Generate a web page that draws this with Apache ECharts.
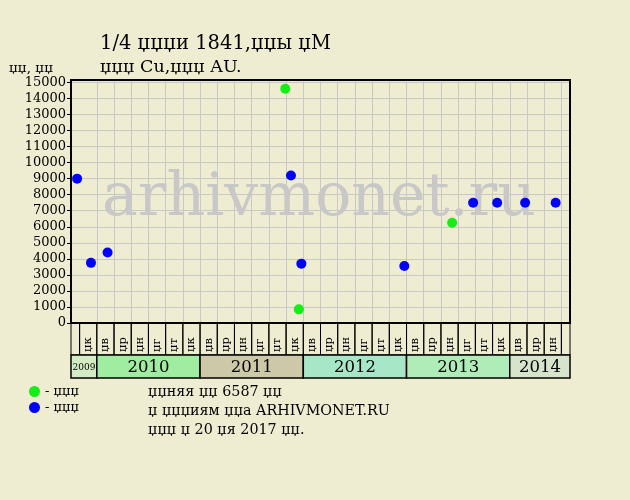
<!DOCTYPE html>
<html><head><meta charset="utf-8">
<script src="https://cdn.jsdelivr.net/npm/echarts@6/dist/echarts.min.js"></script>
<style>html,body{margin:0;padding:0;background:#efedd1;}#c{width:630px;height:500px;}</style>
</head><body><div id="c"></div>
<script>
// ---- data ----
const titleText = '1/4 џџџи 1841,џџы џМ';
const subtitleText = 'џџџ Cu,џџџ AU.';
const yUnitText = 'џџ, џџ';
const axisStart = '2009-10-01';
const axisEnd = '2014-08-01';
const firstColumnStart = '2009-11-01';
const monthColumnLabels = [
  'џк',
  'џв','џр','џн','џг','џт','џк',
  'џв','џр','џн','џг','џт','џк',
  'џв','џр','џн','џг','џт','џк',
  'џв','џр','џн','џг','џт','џк',
  'џв','џр','џн'
];
const years = [2009, 2010, 2011, 2012, 2013, 2014];
const greenDates = ['2011-10-29', '2011-12-16', '2013-06-10'];
const greenValues = [14600, 850, 6250];
const blueDates = ['2009-10-23', '2009-12-11', '2010-02-08', '2011-11-18', '2011-12-25',
                   '2012-12-24', '2013-08-24', '2013-11-17', '2014-02-23', '2014-06-11'];
const blueValues = [9000, 3750, 4400, 9200, 3700, 3550, 7500, 7500, 7500, 7500];
const legendLabels = ['- џџџ', '- џџџ'];
const noteLines = ['џџняя џџ 6587 џџ', 'џ џџџиям џџа ARHIVMONET.RU', 'џџџ џ 20 џя 2017 џџ.'];
const watermarkText = 'arhivmonet.ru';
const yMin = 0, yMax = 15150, yStep = 1000;

// ---- styles ----
const yearColors = ['#d3ecc4', '#a0eca0', '#cdc8a8', '#a8e6c8', '#b0ecb8', '#d6e4cc'];
const FONT = 'DejaVu Serif';
const BG = '#efedd1';

// ---- helpers ----
const [sY, sM] = axisStart.split('-').map(Number);
function monthIndex(s) {
  const [Y, M, D] = s.split('-').map(Number);
  const dim = new Date(Y, M, 0).getDate();
  return (Y - sY) * 12 + (M - sM) + (D - 1) / dim;
}
const xMax = monthIndex(axisEnd);
const monthIds = [];
for (let i = 0; i < xMax; i++) monthIds.push('m' + i);

const colStart = monthIndex(firstColumnStart);
const monthCells = [[0, colStart, '']];
monthColumnLabels.forEach((l, k) => monthCells.push([colStart + 2 * k, colStart + 2 * k + 2, l]));
monthCells.push([colStart + 2 * monthColumnLabels.length, xMax, '']);

const yearCells = years.map(y => [
  Math.max(0, monthIndex(y + '-01-01')),
  Math.min(xMax, monthIndex((y + 1) + '-01-01'))
]);

const chart = echarts.init(document.getElementById('c'), null, {renderer: 'canvas'});
const monthRowFrac = 32 / 55;

chart.setOption({
  backgroundColor: BG,
  animation: false,
  textStyle: {fontFamily: FONT},
  title: [
    {text: titleText, left: 100, top: 33, padding: 0,
     textStyle: {fontFamily: FONT, fontSize: 19.5, fontWeight: 'normal', color: '#000', lineHeight: 22}},
    {text: subtitleText, left: 100, top: 57, padding: 0,
     textStyle: {fontFamily: FONT, fontSize: 17.5, fontWeight: 'normal', color: '#000', lineHeight: 20}},
    {text: yUnitText, left: 9, top: 61, padding: 0,
     textStyle: {fontFamily: FONT, fontSize: 13.5, fontWeight: 'normal', color: '#000', lineHeight: 15}},
    {text: noteLines.join('\n'), left: 148, top: 383, padding: 0,
     textStyle: {fontFamily: FONT, fontSize: 14.3, fontWeight: 'normal', color: '#000', lineHeight: 19}}
  ],
  legend: {
    orient: 'vertical', left: 29, top: 385, itemWidth: 11, itemHeight: 11, itemGap: 3,
    icon: 'circle', padding: 0,
    data: ['green', 'blue'],
    formatter: name => legendLabels[name === 'green' ? 0 : 1],
    textStyle: {fontFamily: FONT, fontSize: 13, color: '#000'}
  },
  graphic: [{
    type: 'text', x: 319, y: 199, z: 0, silent: true,
    style: {text: watermarkText, fontFamily: FONT, fontSize: 60, fill: '#c8c8c8',
            align: 'center', verticalAlign: 'middle'}
  }],
  grid: [
    {left: 71, top: 80, width: 499, height: 243, show: true, borderColor: '#000', borderWidth: 2,
     backgroundColor: 'transparent', z: 3},
    {left: 71, top: 323, width: 499, height: 55, show: false}
  ],
  xAxis: [
    {type: 'category', gridIndex: 0, data: monthIds, boundaryGap: true,
     axisLine: {show: false}, axisTick: {show: false}, axisLabel: {show: false},
     splitLine: {show: true, interval: (i) => i % 2 === 1, showMinLine: false, showMaxLine: false,
                 lineStyle: {color: '#c8c8c8', width: 1}}},
    {type: 'value', gridIndex: 0, min: 0, max: xMax, show: false},
    {type: 'value', gridIndex: 1, min: 0, max: xMax, show: false}
  ],
  yAxis: [
    {type: 'value', gridIndex: 0, min: yMin, max: yMax, interval: yStep,
     axisLine: {show: true, lineStyle: {color: '#000', width: 2}},
     axisTick: {show: true, length: 4, lineStyle: {color: '#000', width: 1}},
     axisLabel: {showMaxLabel: false, fontFamily: FONT, fontSize: 13, color: '#000', margin: 5,
                 formatter: v => String(v)},
     splitLine: {show: true, showMinLine: false, showMaxLine: false, lineStyle: {color: '#c8c8c8', width: 1}}},
    {type: 'value', gridIndex: 1, min: 0, max: 1, show: false}
  ],
  series: [
    {name: 'green', type: 'scatter', xAxisIndex: 1, yAxisIndex: 0, symbolSize: 10, z: 5,
     itemStyle: {color: '#14ee14', opacity: 1},
     data: greenDates.map((d, i) => [monthIndex(d), greenValues[i]])},
    {name: 'blue', type: 'scatter', xAxisIndex: 1, yAxisIndex: 0, symbolSize: 10, z: 5,
     itemStyle: {color: '#0000ff', opacity: 1},
     data: blueDates.map((d, i) => [monthIndex(d), blueValues[i]])},
    {type: 'custom', xAxisIndex: 2, yAxisIndex: 1, clip: false, silent: true,
     data: monthCells.map(c => [c[0], c[1]]),
     encode: {x: [0, 1]},
     renderItem: (params, api) => {
       const cs = params.coordSys;
       const x0 = api.coord([api.value(0), 0])[0];
       const x1 = api.coord([api.value(1), 0])[0];
       const top = cs.y, bottom = cs.y + cs.height * monthRowFrac;
       const label = monthCells[params.dataIndex][2];
       return {type: 'group', children: [
         {type: 'rect', shape: {x: x0, y: top, width: x1 - x0, height: bottom - top},
          style: {fill: 'transparent', stroke: '#000', lineWidth: 1}},
         {type: 'text', x: (x0 + x1) / 2, y: bottom - 3, rotation: Math.PI / 2,
          style: {text: label, fontFamily: FONT, fontSize: 11.5, fill: '#000', align: 'left', verticalAlign: 'middle'}}
       ]};
     }},
    {type: 'custom', xAxisIndex: 2, yAxisIndex: 1, clip: false, silent: true,
     data: yearCells,
     encode: {x: [0, 1]},
     renderItem: (params, api) => {
       const cs = params.coordSys;
       const x0 = api.coord([api.value(0), 0])[0];
       const x1 = api.coord([api.value(1), 0])[0];
       const top = cs.y + cs.height * monthRowFrac, bottom = cs.y + cs.height;
       const w = x1 - x0;
       return {type: 'group', children: [
         {type: 'rect', shape: {x: x0, y: top, width: w, height: bottom - top},
          style: {fill: yearColors[params.dataIndex], stroke: '#000', lineWidth: 1.5}},
         {type: 'text', x: (x0 + x1) / 2, y: (top + bottom) / 2 + 1,
          style: {text: String(years[params.dataIndex]), fontFamily: FONT, fontSize: w < 40 ? 9 : 16.5,
                  fill: '#000', align: 'center', verticalAlign: 'middle'}}
       ]};
     }}
  ]
});
</script></body></html>
